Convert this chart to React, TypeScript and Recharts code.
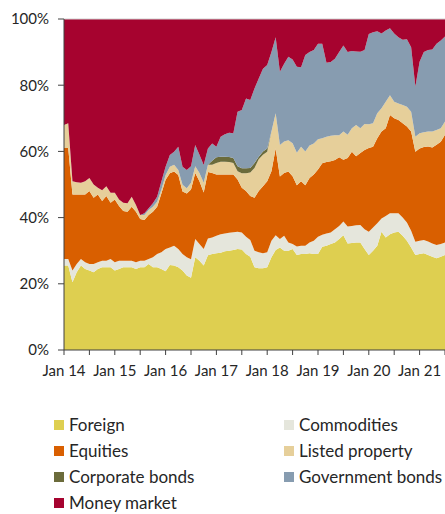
import React from "react";
import {
  AreaChart,
  Area,
  XAxis,
  YAxis,
  ReferenceLine,
} from "recharts";

// monthly shares (%), Jan 14 .. Jul 21
const foreign = [
  25.5, 25.5, 20.5, 23.5, 25.5, 24.5, 24, 23.5, 24.5, 25,
  25, 25, 24, 24.5, 25, 25, 25, 24.5, 25, 25,
  26, 25, 25, 24.5, 23.8, 25.7, 25.5, 25, 24, 22.5,
  21.8, 28, 27, 25.5, 28.6, 29, 29.2, 29.4, 29.8, 30,
  30.2, 30.5, 30.4, 29, 28.2, 25, 24.7, 24.7, 25, 28,
  30.2, 31, 30, 30, 30.5, 28.7, 29, 29, 29.2, 29,
  29, 31.2, 31.5, 32, 32.5, 33.5, 34.7, 32.2, 32.3, 32.5,
  32.5, 30.5, 28.7, 30, 31.5, 35.7, 34, 35, 35.5, 35.7,
  34.5, 33, 31, 28.7, 29, 29.2, 28.7, 28.2, 27.7, 28.2,
  28.7,
];
const commodities = [
  2, 2, 3.5, 2.5, 2, 2, 2, 2.5, 2, 2,
  2, 2.5, 2.5, 2.5, 2, 2, 2, 2, 2, 2,
  1.5, 3, 4, 5, 6.7, 5.3, 6, 5.5, 5, 5.5,
  5.6, 5.5, 5, 5, 5.1, 5, 5.3, 5.6, 5.4, 5.4,
  5.4, 5.2, 5.1, 5.2, 5, 5, 4.8, 4.5, 4.5, 5,
  4.5, 2.5, 4.5, 2.5, 1.5, 2.6, 2.5, 2.5, 3.3, 4,
  5.2, 3.6, 3.7, 3.5, 4, 4, 4.1, 5.1, 5.2, 5.2,
  5.3, 6, 7, 7, 6.8, 4, 6.5, 6.3, 5.8, 5.6,
  5.5, 5.5, 5, 4, 4, 4, 4.1, 4, 4, 3.8,
  3.8,
];
const equities = [
  33.5, 33.5, 23, 21, 19.5, 20.5, 22, 20, 20.5, 18,
  19.5, 17, 19, 16.5, 15, 14.8, 16.3, 15.3, 12.6, 12.3,
  13.3, 13.8, 14.3, 17.8, 20.9, 22.4, 22.4, 22.4, 18.9, 19.3,
  21.1, 20, 19, 17.1, 20.1, 19.5, 18.5, 18, 17.8, 17.6,
  17.4, 15.8, 13.5, 13.8, 13.3, 16, 18.5, 20.3, 21.5, 21,
  26.2, 18.9, 19, 21.4, 20.5, 18.5, 19.5, 18.3, 19.5, 20,
  20.3, 21.6, 21.6, 21.5, 20.9, 20.7, 18.7, 20.7, 22.4, 20.8,
  21.7, 23.9, 25.3, 24.4, 25.7, 26.3, 26.5, 29.7, 28.7, 28.2,
  28.5, 29, 30, 27.2, 27.9, 28.1, 28.7, 29, 30.3, 30.9,
  32.5,
];
const listedProperty = [
  7, 7.5, 4, 3.7, 3.5, 4, 4, 4, 2, 3.3,
  3, 3, 2, 2, 2.5, 2.5, 3, 2, 1.2, 1.5,
  1.5, 1.5, 1.5, 1.1, 1.5, 2, 2.1, 1.5, 2, 1.6,
  2, 2, 2.5, 2.9, 2.2, 2.5, 3.5, 3.9, 3.9, 3.8,
  3.5, 2.5, 4.4, 5.4, 7.1, 9, 9.6, 9.5, 8.9, 12,
  10.6, 9.5, 9.5, 9.5, 10, 9.8, 10.4, 10.2, 9.8, 9.4,
  9.2, 7.6, 7.6, 7.7, 7.5, 6.7, 8.5, 7, 7.1, 9.5,
  7.5, 7.9, 7.2, 7.1, 7.5, 7, 8, 6, 5, 5,
  5.5, 6, 6, 4.5, 4.6, 4.5, 4.5, 4.8, 4.5, 4.1,
  4,
];
const corporateBonds = [
  0, 0, 0, 0, 0, 0, 0, 0, 0, 0,
  0, 0, 0, 0, 0, 0, 0, 0, 0, 0,
  0, 0, 0, 0, 0, 0, 0, 0, 0, 0,
  0, 0, 0, 0, 0, 1.2, 1.7, 1.5, 1.5, 1.5,
  1.5, 1.5, 1.5, 1.5, 1.4, 1.5, 0.8, 1, 1, 0,
  0, 0, 0, 0, 0, 0, 0, 0, 0, 0,
  0, 0, 0, 0, 0, 0, 0, 0, 0, 0,
  0, 0, 0, 0, 0, 0, 0, 0, 0, 0,
  0, 0, 0, 0, 0, 0, 0, 0, 0, 0,
  0,
];
const governmentBonds = [
  0, 0, 0, 0, 0, 0, 0, 0, 0, 0,
  0, 0, 0, 0, 0, 0, 0, 0, 0, 0.5,
  0.5, 1, 1.5, 2.5, 2.5, 3.5, 3.9, 7, 5.5, 5.5,
  5, 6.4, 5.5, 5.4, 4.9, 5.2, 3.2, 6, 6.8, 7.3,
  7.5, 16.5, 17.6, 21.1, 20.5, 22.5, 23.6, 25, 25.2, 24,
  23, 22.2, 23.5, 25.2, 25.3, 26, 24, 29.1, 28.2, 28.2,
  28.8, 28.5, 22.4, 22.3, 23.1, 25.1, 26, 25, 23.3, 22.2,
  23.1, 22.3, 27.3, 27.5, 24.8, 22.6, 21.5, 20.2, 20.6, 20,
  19.7, 20.4, 19.5, 15.2, 21.6, 24.2, 24.6, 24.8, 26, 26.5,
  25.7,
];
const moneyMarket = [
  32, 31.5, 49, 49.3, 49.5, 49, 48, 50, 51, 51.7,
  50.5, 52.5, 52.5, 54.5, 55.5, 55.7, 53.7, 56.2, 59.2, 58.7,
  57.2, 55.7, 53.7, 49.1, 44.6, 41.1, 40.1, 38.6, 44.6, 45.6,
  44.5, 38.1, 41, 44.1, 39.1, 37.6, 38.6, 35.6, 34.8, 34.4,
  34.5, 28, 27.5, 24, 24.5, 21, 18, 15, 13.9, 10,
  5.5, 15.9, 13.5, 11.4, 12.2, 14.4, 14.6, 10.9, 10, 9.4,
  7.5, 7.5, 13.2, 13, 12, 10, 8, 10, 9.7, 9.8,
  9.9, 9.4, 4.5, 4, 3.7, 4.4, 3.5, 2.8, 4.4, 5.5,
  6.3, 6.1, 8.5, 20.4, 12.9, 10, 9.4, 9.2, 7.5, 6.5,
  5.3,
];

const series = [
  { key: "foreign", name: "Foreign", color: "#DECF50", values: foreign },
  { key: "commodities", name: "Commodities", color: "#E5E6DC", values: commodities },
  { key: "equities", name: "Equities", color: "#D95F00", values: equities },
  { key: "listedProperty", name: "Listed property", color: "#E6CF9A", values: listedProperty },
  { key: "corporateBonds", name: "Corporate bonds", color: "#6B6B3B", values: corporateBonds },
  { key: "governmentBonds", name: "Government bonds", color: "#879CB0", values: governmentBonds },
  { key: "moneyMarket", name: "Money market", color: "#A6032F", values: moneyMarket },
];

const data = foreign.map((_, i) => {
  const row: Record<string, number> = { m: i };
  series.forEach((s) => {
    row[s.key] = s.values[i];
  });
  return row;
});

const xTicks = [0, 6, 12, 18, 24, 30, 36, 42, 48, 54, 60, 66, 72, 78, 84, 90];
const yTicks = [0, 0.2, 0.4, 0.6, 0.8, 1];

const FONT = "Lato, 'Open Sans', sans-serif";
const TEXT = "#262626";
const AXIS = "#404040";

function LegendBlock() {
  return (
    <div style={{ position: "absolute", left: 0, top: 414, width: 445 }}>
      {series.map((s, i) => (
        <div
          key={s.key}
          style={{
            position: "absolute",
            left: i % 2 === 0 ? 54 : 284,
            top: Math.floor(i / 2) * 26,
            display: "flex",
            alignItems: "center",
            fontFamily: FONT,
            fontSize: 17,
            color: TEXT,
            whiteSpace: "nowrap",
            lineHeight: "22px",
          }}
        >
          <span
            style={{
              display: "inline-block",
              width: 10,
              height: 10,
              background: s.color,
              marginRight: 5,
            }}
          />
          {s.name}
        </div>
      ))}
    </div>
  );
}

export default function App() {
  return (
    <div style={{ position: "absolute", left: 0, top: 0, width: 445, height: 514, background: "#fff" }}>
      <AreaChart
        width={445}
        height={400}
        data={data}
        stackOffset="expand"
        margin={{ top: 19, right: 0, left: 0, bottom: 20 }}
      >
        <XAxis
          dataKey="m"
          type="number"
          domain={[0, 90]}
          ticks={xTicks}
          interval={0}
          tickFormatter={(v: number) => (v % 12 === 0 ? `Jan ${14 + v / 12}` : "")}
          tick={{ fontSize: 15, fill: TEXT, fontFamily: FONT }}
          tickSize={5}
          tickMargin={10}
          height={30}
          stroke={AXIS}
          allowDataOverflow
        />
        <YAxis
          type="number"
          domain={[0, 1]}
          ticks={yTicks}
          tickFormatter={(v: number) => `${Math.round(v * 100)}%`}
          tick={{ fontSize: 15, fill: TEXT, fontFamily: FONT }}
          tickSize={6}
          tickMargin={9}
          width={64}
          stroke={AXIS}
        />
        {series.map((s) => (
          <Area
            key={s.key}
            dataKey={s.key}
            name={s.name}
            stackId="1"
            type="linear"
            stroke="none"
            fill={s.color}
            fillOpacity={1}
            isAnimationActive={false}
          />
        ))}
        <ReferenceLine y={1} stroke="#d0d0d0" strokeWidth={1} />
      </AreaChart>
      <LegendBlock />
    </div>
  );
}
